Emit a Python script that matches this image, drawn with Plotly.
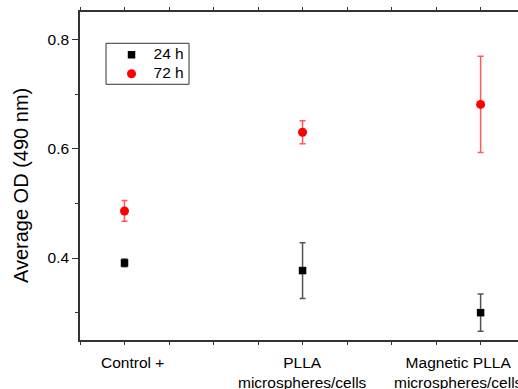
import plotly.graph_objects as go

categories = ["Control +", "PLLA<br>microspheres/cells", "Magnetic PLLA<br>microspheres/cells"]
x_pos = [1, 2, 3]
series_names = ["24 h", "72 h"]
od_24h = [0.391, 0.377, 0.300]
err_24h = [0.007, 0.051, 0.034]
od_72h = [0.486, 0.630, 0.681]
err_72h = [0.019, 0.021, 0.088]
y_tickvals = [0.4, 0.6, 0.8]
y_ticktext = ["0.4", "0.6", "0.8"]

# horizontal nudges of the category labels (pixels), as in the original layout
label_xshift = [8, 0, -22]

FONT = "Liberation Sans, Arial, sans-serif"


def legend_name(s):
    return '<span style="font-size:15.5px">' + s + "</span>"


fig = go.Figure()
fig.add_trace(go.Scatter(
    x=x_pos, y=od_24h, mode="markers", name=legend_name(series_names[0]),
    marker=dict(symbol="square", size=7.5, color="#000000"),
    error_y=dict(type="data", array=err_24h, color="#555555", thickness=1.5, width=3),
))
fig.add_trace(go.Scatter(
    x=x_pos, y=od_72h, mode="markers", name=legend_name(series_names[1]),
    marker=dict(symbol="circle", size=9, color="#ff0000"),
    error_y=dict(type="data", array=err_72h, color="rgba(255,0,0,0.65)", thickness=1.5, width=3),
))

fig.add_annotation(
    text="Average OD (490 nm)", textangle=-90, xref="paper", yref="paper",
    x=-0.1357, y=0.471, xanchor="center", yanchor="middle", showarrow=False,
    font=dict(family=FONT, size=20, color="#000000"),
)

for xv, lab, dx in zip(x_pos, categories, label_xshift):
    fig.add_annotation(
        text=lab, x=xv, xref="x", y=0, yref="paper", xanchor="center", yanchor="top",
        showarrow=False, xshift=dx, yshift=-12, align="center",
        font=dict(family=FONT, size=15.5, color="#000000"),
    )

# legend frame
fig.add_shape(
    type="rect", xref="paper", yref="paper",
    x0=0.0594, x1=0.2489, y0=0.7796, y1=0.9046,
    line=dict(color="#333333", width=1), fillcolor="rgba(0,0,0,0)", layer="above",
)

fig.update_layout(
    width=518, height=389,
    margin=dict(l=80, r=0, t=12, b=49, autoexpand=False),
    paper_bgcolor="white", plot_bgcolor="white",
    font=dict(family=FONT, size=15.5, color="#000000"),
    showlegend=True,
    legend=dict(
        x=0.0674, y=0.9137, xanchor="left", yanchor="top",
        borderwidth=0, bgcolor="rgba(0,0,0,0)",
        font=dict(family=FONT, size=12), tracegroupgap=0, itemwidth=34,
    ),
    xaxis=dict(
        range=[0.75, 3.21], tickmode="array", tickvals=x_pos, ticktext=[""] * len(x_pos),
        ticks="outside", ticklen=3, tickwidth=1, tickcolor="#333333",
        showline=True, linecolor="#333333", linewidth=1.5, mirror="allticks",
        showgrid=False, zeroline=False, automargin=False,
        minor=dict(tick0=0.75, dtick=0.25, ticks="outside", ticklen=3, tickcolor="#333333", showgrid=False),
    ),
    yaxis=dict(
        range=[0.25, 0.85], tickmode="array", tickvals=y_tickvals, ticktext=y_ticktext,
        ticks="outside", ticklen=6, tickwidth=1, tickcolor="#333333",
        showline=True, linecolor="#333333", linewidth=1.5, mirror=False,
        showgrid=False, zeroline=False, automargin=False,
        minor=dict(tickvals=[0.3, 0.5, 0.7], ticks="outside", ticklen=3, tickcolor="#333333", showgrid=False),
        tickfont=dict(family=FONT, size=15.5),
    ),
)

fig.write_html("out.html", config={"displayModeBar": False})
